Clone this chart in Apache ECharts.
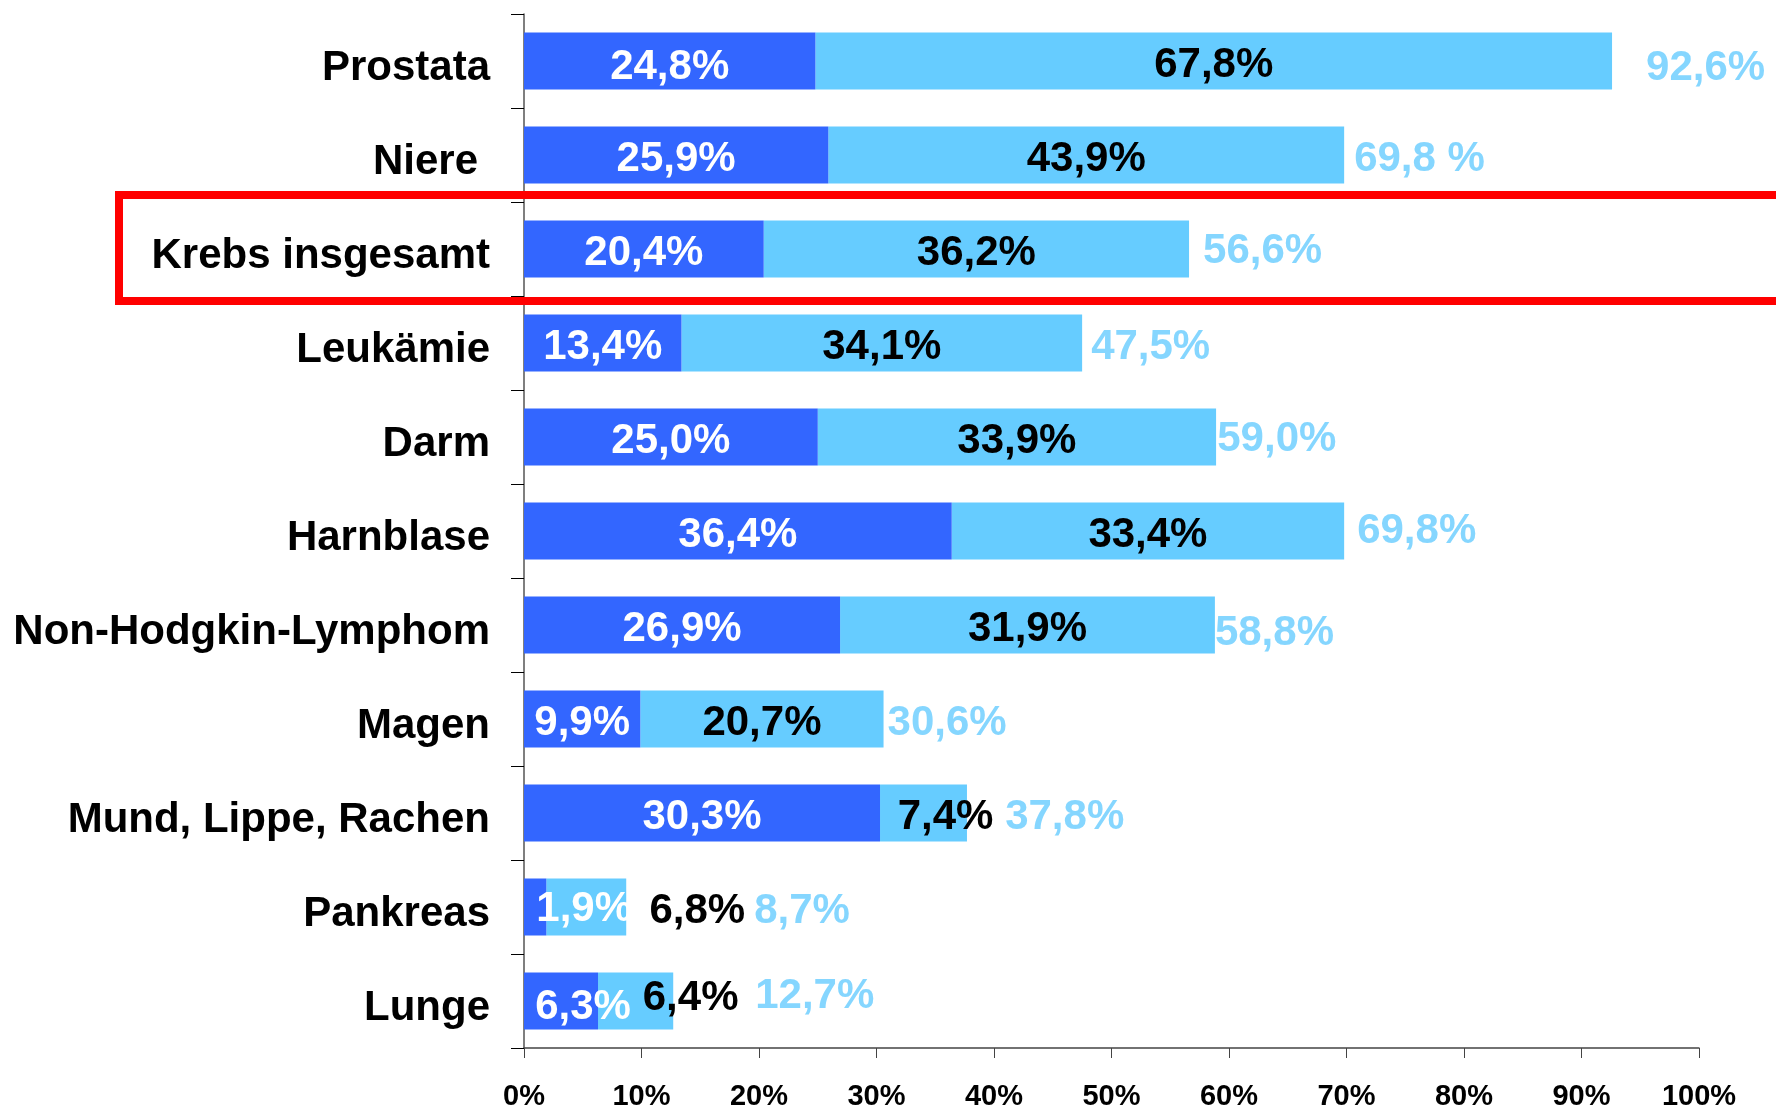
<!DOCTYPE html>
<html>
<head>
<meta charset="utf-8">
<script src="https://cdn.jsdelivr.net/npm/echarts@6/dist/echarts.min.js"></script>
<style>
  html, body { margin: 0; padding: 0; background: #fff; }
  #chart { width: 1776px; height: 1110px; }
</style>
</head>
<body>
<div id="chart"></div>
<script>
// categories, top to bottom
const categories = ['Prostata', 'Niere', 'Krebs insgesamt', 'Leukämie', 'Darm', 'Harnblase',
  'Non-Hodgkin-Lymphom', 'Magen', 'Mund, Lippe, Rachen', 'Pankreas', 'Lunge'];
const darkValues = [24.8, 25.9, 20.4, 13.4, 25.0, 36.4, 26.9, 9.9, 30.3, 1.9, 6.3];
const lightValues = [67.8, 43.9, 36.2, 34.1, 33.9, 33.4, 31.9, 20.7, 7.4, 6.8, 6.4];
const totals = [92.6, 69.8, 56.6, 47.5, 59.0, 69.8, 58.8, 30.6, 37.8, 8.7, 12.7];
const xTicks = [0, 10, 20, 30, 40, 50, 60, 70, 80, 90, 100];

// hand-placed label nudges from the original slide
const darkOffsets = [[0,6],[0,4],[0,4],[0,4],[0,4],[0,4],[0,4],[0,4],[0,4],[49,2],[22,6]];
const lightOffsets = [[0,4],[0,4],[0,4],[0,4],[0,4],[0,4],[0,4],[0,4],[22,4],[111,4],[55,-3]];
const totalOffsets = [[34,7],[10,4],[14,2],[9,4],[0,2],[13,0],[0,8],[4,4],[37,4],[128,4],[82,-5]];

const fmt = v => v.toFixed(1).replace('.', ',') + '%';

const FONT = 'Liberation Sans';
const DARK = '#3366FF';
const LIGHT = '#66CCFF';

const catStyle = { fontSize: 42, fontWeight: 'bold', fontFamily: FONT, color: '#000' };

const chart = echarts.init(document.getElementById('chart'));
chart.setOption({
  animation: false,
  textStyle: { fontFamily: FONT, fontWeight: 'bold' },
  grid: { left: 524, right: 77, top: 14, bottom: 62, containLabel: false, outerBoundsMode: 'none' },
  xAxis: {
    type: 'value',
    min: 0,
    max: 100,
    interval: 10,
    splitLine: { show: false },
    axisLine: { show: true, lineStyle: { color: '#444', width: 1.5 } },
    axisTick: { show: true, length: 10, lineStyle: { color: '#444' } },
    axisLabel: {
      margin: 34,
      fontSize: 29,
      fontWeight: 'bold',
      fontFamily: FONT,
      color: '#000',
      formatter: v => xTicks.includes(v) ? v + '%' : ''
    }
  },
  yAxis: {
    type: 'category',
    inverse: true,
    data: categories,
    axisLine: { show: true, lineStyle: { color: '#555', width: 1.5 } },
    axisTick: { show: true, length: 13, lineStyle: { color: '#000' } },
    axisLabel: {
      margin: 34,
      ...catStyle,
      formatter: v => v === 'Niere' ? '{n|' + v + '}' : '{c|' + v + '}',
      rich: {
        c: { ...catStyle, padding: [14, 0, 0, 0] },
        n: { ...catStyle, padding: [14, 12, 0, 0] }
      }
    }
  },
  series: [
    {
      name: 'dunkel',
      type: 'bar',
      stack: 'gesamt',
      barWidth: 57,
      z: 3,
      itemStyle: { color: DARK },
      label: {
        show: true,
        position: 'inside',
        color: '#fff',
        fontSize: 42,
        fontWeight: 'bold',
        fontFamily: FONT,
        formatter: p => fmt(p.value)
      },
      data: darkValues.map((v, i) => ({ value: v, label: { offset: darkOffsets[i] } }))
    },
    {
      name: 'hell',
      type: 'bar',
      stack: 'gesamt',
      barWidth: 57,
      z: 2,
      itemStyle: { color: LIGHT },
      label: {
        show: true,
        position: 'inside',
        color: '#000',
        fontSize: 42,
        fontWeight: 'bold',
        fontFamily: FONT,
        formatter: p => fmt(p.value)
      },
      data: lightValues.map((v, i) => ({ value: v, label: { offset: lightOffsets[i] } }))
    },
    {
      name: 'summe',
      type: 'scatter',
      symbolSize: 0,
      z: 4,
      silent: true,
      label: {
        show: true,
        position: 'right',
        distance: 0,
        color: LIGHT,
        fontSize: 42,
        fontWeight: 'bold',
        fontFamily: FONT,
        formatter: p => categories[p.value[1]] === 'Niere'
          ? fmt(p.value[0]).replace('%', ' %')
          : fmt(p.value[0])
      },
      data: totals.map((v, i) => ({ value: [v, i], label: { offset: totalOffsets[i] } }))
    }
  ],
  graphic: [
    {
      type: 'rect',
      z: 100,
      shape: { x: 119, y: 195, width: 1700, height: 106 },
      style: { fill: 'none', stroke: '#FF0000', lineWidth: 8 }
    }
  ]
});
</script>
</body>
</html>
